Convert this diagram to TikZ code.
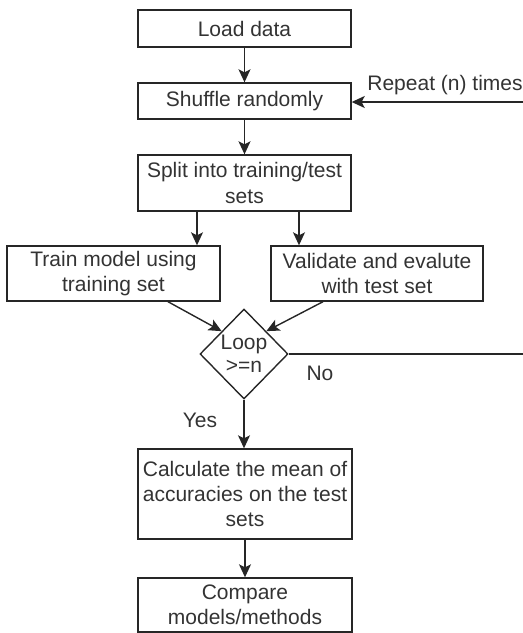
\documentclass[tikz,border=0pt]{standalone}
\usepackage{fontspec}
\setmainfont{Liberation Sans}
\usetikzlibrary{shapes.geometric,arrows.meta}
\begin{document}
\begin{tikzpicture}[x=0.5pt,y=-0.5pt,
  every node/.style={font=\fontsize{10.5pt}{12.6pt}\selectfont, text=black!80},
  box/.style={draw=black!85, line width=0.7pt, rectangle, inner sep=0pt, align=center, minimum width=106.5pt},
  decision/.style={draw=black!85, line width=0.7pt, diamond, aspect=1, inner sep=-1.5pt, align=center, minimum width=44pt, minimum height=45pt},
  lbl/.style={inner sep=0pt},
  conn/.style={draw=black!85, line width=0.7pt, -{Stealth[length=6.5pt,width=6pt,inset=1.5pt]}},
  plain/.style={draw=black!85, line width=0.7pt}]
\useasboundingbox (0,0) rectangle (523,633);
\node[box, minimum height=18.5pt] (load) at (244.5,28.5) {Load data};
\node[box, minimum height=18pt] (shuffle) at (244.5,101) {Shuffle randomly};
\node[box, minimum height=28pt] (split) at (244.5,183) {Split into training/test\\sets};
\node[box, minimum width=106.5pt, minimum height=27.5pt] (train) at (113.5,273.5) {Train model using\\training set};
\node[box, minimum width=106pt, minimum height=27.5pt] (valid) at (377,273.5) {Validate and evalute\\with test set};
\node[decision] (loop) at (244,354) {Loop\\[-1pt]>=n};
\node[box, minimum width=107pt, minimum height=45pt] (mean) at (245,494) {Calculate the mean of\\accuracies on the test\\sets};
\node[box, minimum width=107pt, minimum height=27pt] (cmp) at (245,605) {Compare\\models/methods};
\node[lbl, anchor=west] (rep) at (367,85) {Repeat (n) times};
\node[lbl] (no) at (320,373) {No};
\node[lbl] (yes) at (200,420) {Yes};
\coordinate (repin) at (523,102);
\coordinate (noout) at (523,354);
\draw[conn] (load) -- (shuffle);
\draw[conn] (shuffle) -- (split);
\draw[conn] (split.south -| 197,0) -- (train.north -| 197,0);
\draw[conn] (split.south -| 299,0) -- (valid.north -| 299,0);
\draw[conn] (train.south -| 168,0) -- (loop.north west);
\draw[conn] (valid.south -| 323,0) -- (loop.north east);
\draw[plain] (loop.east) -- (noout |- loop.east);
\draw[conn] (repin) -- (shuffle.east |- repin);
\draw[conn] (loop.south) -- (loop.south |- mean.north);
\draw[conn] (mean) -- (cmp);
\end{tikzpicture}
\end{document}
